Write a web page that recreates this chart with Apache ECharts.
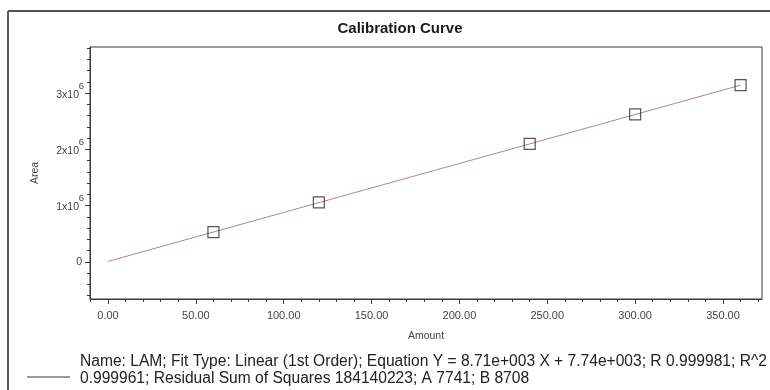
<!DOCTYPE html>
<html>
<head>
<meta charset="utf-8">
<script src="https://cdn.jsdelivr.net/npm/echarts@6/dist/echarts.min.js"></script>
<style>
  html, body { margin: 0; padding: 0; background: #fff; }
  #chart { width: 770px; height: 390px; }
</style>
</head>
<body>
<div id="chart"></div>
<script>
// Calibration standards (amount vs. peak area)
const amounts = [60, 120, 240, 300, 360];
const areas = [527000, 1058000, 2098000, 2622000, 3144000];

// Linear fit coefficients: Y = B * X + A
const fitA = 7741;
const fitB = 8708;
const fitRange = [0, 360];

// Axis ticks
const xMajorTicks = [0, 50, 100, 150, 200, 250, 300, 350];
const xMinorTicks = [-10, 0, 10, 20, 30, 40, 50, 60, 70, 80, 90, 100, 110, 120, 130, 140, 150, 160, 170,
  180, 190, 200, 210, 220, 230, 240, 250, 260, 270, 280, 290, 300, 310, 320, 330, 340, 350, 360, 370];
const yMajorTicks = [0, 1000000, 2000000, 3000000];
const yMinorTicks = [-600000, -400000, -200000, 0, 200000, 400000, 600000, 800000, 1000000, 1200000,
  1400000, 1600000, 1800000, 2000000, 2200000, 2400000, 2600000, 2800000, 3000000, 3200000, 3400000,
  3600000, 3800000];

const fitText = [
  'Name: LAM; Fit Type: Linear (1st Order); Equation Y = 8.71e+003 X + 7.74e+003; R 0.999981; R^2',
  '0.999961; Residual Sum of Squares 184140223; A 7741; B 8708'
];

const xMin = -10.24, xMax = 372.2;
const yMin = -661000, yMax = 3821000;

const fitLine = fitRange.map(x => [x, fitB * x + fitA]);
const points = amounts.map((x, i) => [x, areas[i]]);

const FONT = '"Liberation Sans", Arial, sans-serif';
const AXIS_COLOR = '#3a3a3a';
const LABEL_COLOR = '#444';

// Scientific tick labels: exponent on its own short line above the mantissa
function yLabel(v) {
  if (v === 0) return '{z|0}';
  return '{s|6}\n{b|' + (v / 1e6) + 'x10}';
}

const chart = echarts.init(document.getElementById('chart'), null, { renderer: 'canvas' });

chart.setOption({
  animation: false,
  backgroundColor: '#fff',
  title: [
    {
      text: 'Calibration Curve',
      left: 400, top: 21, textAlign: 'center', padding: 0,
      textStyle: { fontFamily: FONT, fontSize: 15, fontWeight: 'bold', color: '#1a1a1a' }
    },
    {
      text: fitText[0],
      left: 80, top: 354, padding: 0,
      textStyle: { fontFamily: FONT, fontSize: 15.6, fontWeight: 'normal', color: '#222' }
    },
    {
      text: fitText[1],
      left: 80, top: 371, padding: 0,
      textStyle: { fontFamily: FONT, fontSize: 15.6, fontWeight: 'normal', color: '#222' }
    }
  ],
  graphic: [
    // outer frame (left and top edges)
    { type: 'line', shape: { x1: 8, y1: 11, x2: 770, y2: 11 }, style: { stroke: '#555', lineWidth: 2 } },
    { type: 'line', shape: { x1: 8, y1: 11, x2: 8, y2: 390 }, style: { stroke: '#555', lineWidth: 2 } },
    // legend sample for the fit line
    { type: 'line', shape: { x1: 27, y1: 377, x2: 70, y2: 377 }, style: { stroke: '#333', lineWidth: 1 } }
  ],
  grid: { left: 90, right: 8, top: 47, bottom: 91, show: true, borderColor: AXIS_COLOR, borderWidth: 1 },
  xAxis: [
    {
      type: 'value', min: xMin, max: xMax,
      name: 'Amount', nameLocation: 'middle', nameGap: 32,
      nameTextStyle: { fontFamily: FONT, fontSize: 10.5, color: LABEL_COLOR },
      axisLine: { show: true, onZero: false, lineStyle: { color: AXIS_COLOR } },
      axisTick: { show: true, length: 5, customValues: xMajorTicks, lineStyle: { color: AXIS_COLOR } },
      axisLabel: {
        customValues: xMajorTicks, margin: 11,
        fontFamily: FONT, fontSize: 11, color: LABEL_COLOR,
        formatter: v => v.toFixed(2)
      },
      splitLine: { show: false }
    },
    {
      type: 'value', min: xMin, max: xMax, position: 'bottom',
      axisLine: { show: false, onZero: false },
      axisTick: { show: true, length: 3, customValues: xMinorTicks, lineStyle: { color: AXIS_COLOR } },
      axisLabel: { show: false },
      splitLine: { show: false }
    }
  ],
  yAxis: [
    {
      type: 'value', min: yMin, max: yMax,
      name: 'Area', nameLocation: 'middle', nameGap: 49,
      nameTextStyle: { fontFamily: FONT, fontSize: 10.5, color: LABEL_COLOR },
      axisLine: { show: true, onZero: false, lineStyle: { color: AXIS_COLOR } },
      axisTick: { show: true, length: 5, customValues: yMajorTicks, lineStyle: { color: AXIS_COLOR } },
      axisLabel: {
        customValues: yMajorTicks, margin: 6,
        fontFamily: FONT, fontSize: 10.5, color: LABEL_COLOR,
        padding: [0, 0, 3, 0],
        formatter: yLabel,
        rich: {
          s: { fontFamily: FONT, fontSize: 9.5, lineHeight: 6, color: LABEL_COLOR },
          b: { fontFamily: FONT, fontSize: 10.5, lineHeight: 11, color: LABEL_COLOR, padding: [0, 5, 0, 0] },
          z: { fontFamily: FONT, fontSize: 10.5, lineHeight: 11, color: LABEL_COLOR, padding: [3, 2, 0, 0] }
        }
      },
      splitLine: { show: false }
    },
    {
      type: 'value', min: yMin, max: yMax, position: 'left',
      axisLine: { show: false, onZero: false },
      axisTick: { show: true, length: 3, customValues: yMinorTicks, lineStyle: { color: AXIS_COLOR } },
      axisLabel: { show: false },
      splitLine: { show: false }
    }
  ],
  series: [
    {
      type: 'line', name: 'Fit',
      data: fitLine,
      showSymbol: false,
      lineStyle: { color: '#b58585', width: 1 },
      z: 2
    },
    {
      type: 'scatter', name: 'LAM',
      data: points,
      symbol: 'rect', symbolSize: 11,
      itemStyle: { color: 'rgba(255,255,255,0)', borderColor: '#2a2a2a', borderWidth: 1.2 },
      z: 3
    }
  ]
});
</script>
</body>
</html>
